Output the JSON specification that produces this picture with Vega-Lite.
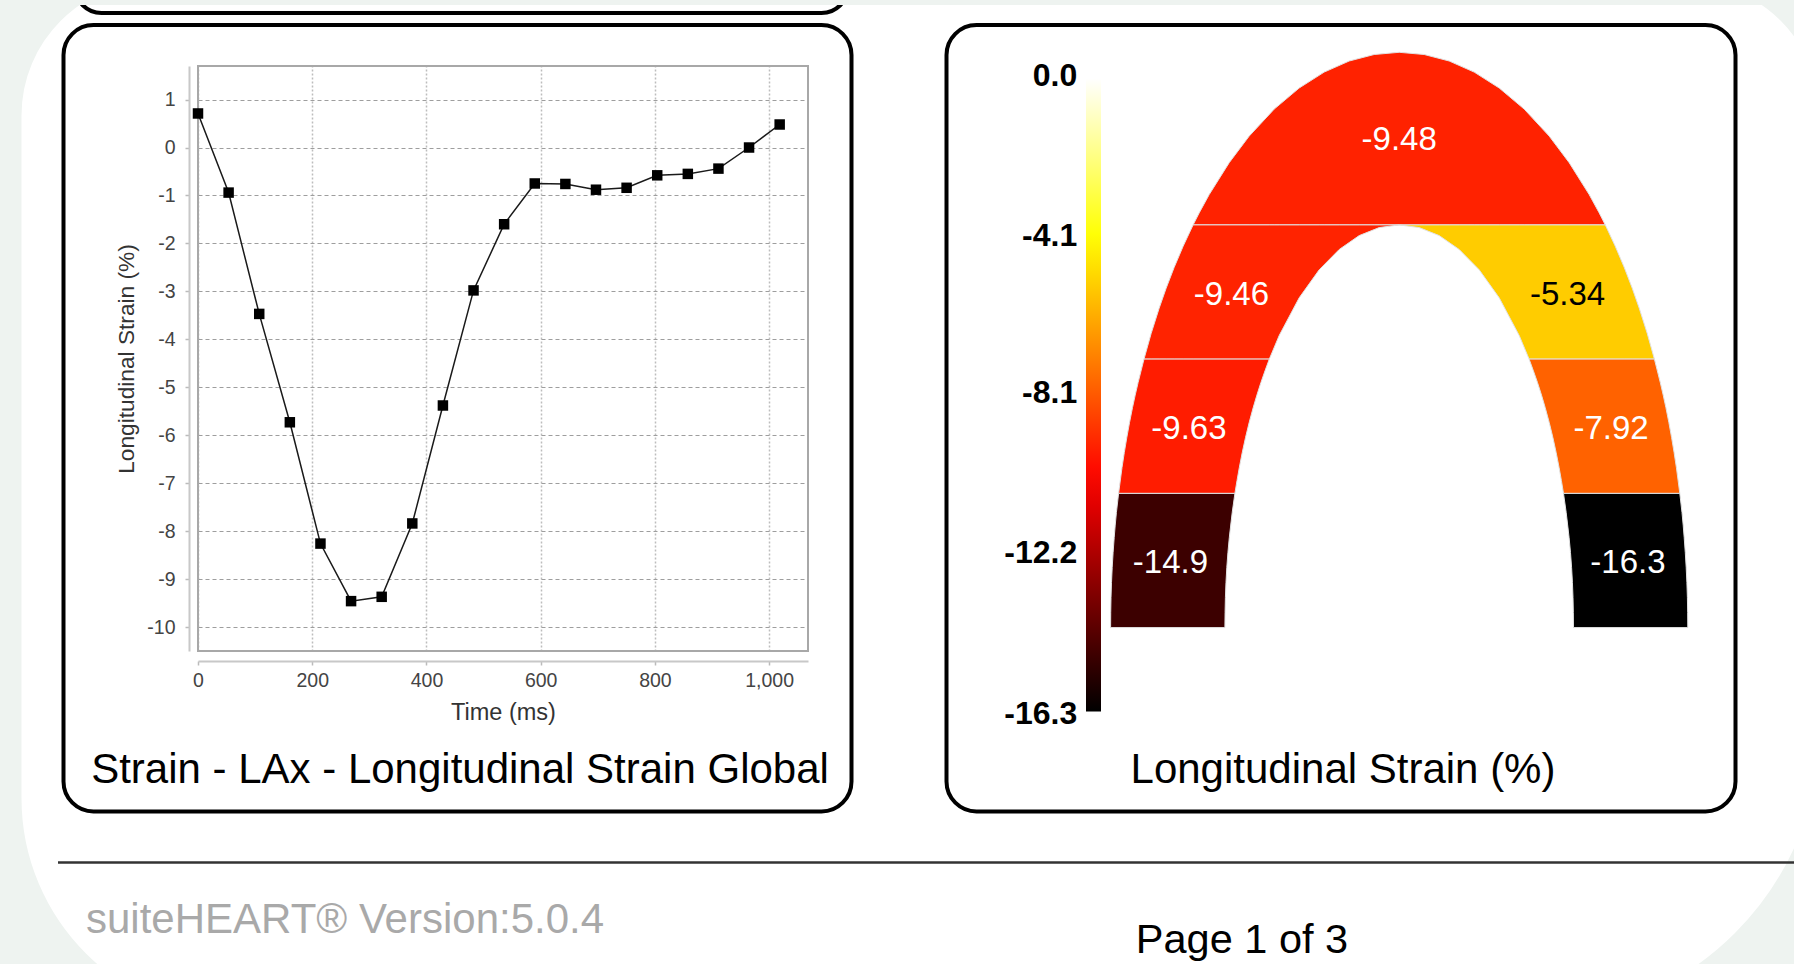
{
  "$schema": "https://vega.github.io/schema/vega-lite/v6.json",
  "width": 1794,
  "height": 964,
  "autosize": {"type": "none"},
  "padding": 0,
  "background": "#ffffff",
  "config": {"view": {"stroke": null}, "font": "Liberation Sans", "text": {"font": "Liberation Sans"}},
  "datasets": {
    "series": [
      {"t": 0, "s": 0.71}, {"t": 53.6, "s": -0.94}, {"t": 107.2, "s": -3.47}, {"t": 160.8, "s": -5.73},
      {"t": 214.4, "s": -8.26}, {"t": 268, "s": -9.46}, {"t": 321.6, "s": -9.37}, {"t": 375.2, "s": -7.84},
      {"t": 428.8, "s": -5.38}, {"t": 482.4, "s": -2.98}, {"t": 536, "s": -1.6}, {"t": 589.6, "s": -0.75},
      {"t": 643.2, "s": -0.76}, {"t": 696.8, "s": -0.88}, {"t": 750.4, "s": -0.84}, {"t": 804, "s": -0.58},
      {"t": 857.6, "s": -0.55}, {"t": 911.2, "s": -0.44}, {"t": 964.8, "s": 0.0}, {"t": 1018.4, "s": 0.48}
    ],
    "capRows": [
      {"seg": "T", "strain": -9.48, "u": -206.1, "top": 402.7, "bottom": 402.7},
      {"seg": "T", "strain": -9.48, "u": -200, "top": 414.7, "bottom": 402.7},
      {"seg": "T", "strain": -9.48, "u": -190, "top": 433.0, "bottom": 402.7},
      {"seg": "T", "strain": -9.48, "u": -170, "top": 464.9, "bottom": 402.7},
      {"seg": "T", "strain": -9.48, "u": -150, "top": 491.5, "bottom": 402.7},
      {"seg": "T", "strain": -9.48, "u": -125, "top": 518.5, "bottom": 402.7},
      {"seg": "T", "strain": -9.48, "u": -100, "top": 539.6, "bottom": 402.7},
      {"seg": "T", "strain": -9.48, "u": -75, "top": 555.5, "bottom": 402.7},
      {"seg": "T", "strain": -9.48, "u": -50, "top": 566.6, "bottom": 402.7},
      {"seg": "T", "strain": -9.48, "u": -25, "top": 573.1, "bottom": 402.7},
      {"seg": "T", "strain": -9.48, "u": 0, "top": 575.3, "bottom": 402.7},
      {"seg": "T", "strain": -9.48, "u": 25, "top": 573.1, "bottom": 402.7},
      {"seg": "T", "strain": -9.48, "u": 50, "top": 566.6, "bottom": 402.7},
      {"seg": "T", "strain": -9.48, "u": 75, "top": 555.5, "bottom": 402.7},
      {"seg": "T", "strain": -9.48, "u": 100, "top": 539.6, "bottom": 402.7},
      {"seg": "T", "strain": -9.48, "u": 125, "top": 518.5, "bottom": 402.7},
      {"seg": "T", "strain": -9.48, "u": 150, "top": 491.5, "bottom": 402.7},
      {"seg": "T", "strain": -9.48, "u": 170, "top": 464.9, "bottom": 402.7},
      {"seg": "T", "strain": -9.48, "u": 190, "top": 433.0, "bottom": 402.7},
      {"seg": "T", "strain": -9.48, "u": 200, "top": 414.7, "bottom": 402.7},
      {"seg": "T", "strain": -9.48, "u": 206.1, "top": 402.7, "bottom": 402.7},

      {"seg": "L2", "strain": -9.46, "u": -255.2, "top": 268.5, "bottom": 268.5},
      {"seg": "L2", "strain": -9.46, "u": -248, "top": 294.3, "bottom": 268.5},
      {"seg": "L2", "strain": -9.46, "u": -240, "top": 319.5, "bottom": 268.5},
      {"seg": "L2", "strain": -9.46, "u": -233, "top": 339.5, "bottom": 268.5},
      {"seg": "L2", "strain": -9.46, "u": -225, "top": 360.3, "bottom": 268.5},
      {"seg": "L2", "strain": -9.46, "u": -216, "top": 381.5, "bottom": 268.5},
      {"seg": "L2", "strain": -9.46, "u": -206.1, "top": 402.7, "bottom": 268.5},
      {"seg": "L2", "strain": -9.46, "u": -129.9, "top": 402.7, "bottom": 268.5},
      {"seg": "L2", "strain": -9.46, "u": -120, "top": 402.7, "bottom": 292.1},
      {"seg": "L2", "strain": -9.46, "u": -100, "top": 402.7, "bottom": 329.8},
      {"seg": "L2", "strain": -9.46, "u": -80, "top": 402.7, "bottom": 357.8},
      {"seg": "L2", "strain": -9.46, "u": -60, "top": 402.7, "bottom": 378.1},
      {"seg": "L2", "strain": -9.46, "u": -40, "top": 402.7, "bottom": 392.0},
      {"seg": "L2", "strain": -9.46, "u": -20, "top": 402.7, "bottom": 400.0},
      {"seg": "L2", "strain": -9.46, "u": 0, "top": 402.7, "bottom": 402.7},

      {"seg": "R2", "strain": -5.34, "u": 0, "top": 402.7, "bottom": 402.7},
      {"seg": "R2", "strain": -5.34, "u": 20, "top": 402.7, "bottom": 400.0},
      {"seg": "R2", "strain": -5.34, "u": 40, "top": 402.7, "bottom": 392.0},
      {"seg": "R2", "strain": -5.34, "u": 60, "top": 402.7, "bottom": 378.1},
      {"seg": "R2", "strain": -5.34, "u": 80, "top": 402.7, "bottom": 357.8},
      {"seg": "R2", "strain": -5.34, "u": 100, "top": 402.7, "bottom": 329.8},
      {"seg": "R2", "strain": -5.34, "u": 120, "top": 402.7, "bottom": 292.1},
      {"seg": "R2", "strain": -5.34, "u": 129.9, "top": 402.7, "bottom": 268.5},
      {"seg": "R2", "strain": -5.34, "u": 206.1, "top": 402.7, "bottom": 268.5},
      {"seg": "R2", "strain": -5.34, "u": 216, "top": 381.5, "bottom": 268.5},
      {"seg": "R2", "strain": -5.34, "u": 225, "top": 360.3, "bottom": 268.5},
      {"seg": "R2", "strain": -5.34, "u": 233, "top": 339.5, "bottom": 268.5},
      {"seg": "R2", "strain": -5.34, "u": 240, "top": 319.5, "bottom": 268.5},
      {"seg": "R2", "strain": -5.34, "u": 248, "top": 294.3, "bottom": 268.5},
      {"seg": "R2", "strain": -5.34, "u": 255.2, "top": 268.5, "bottom": 268.5}
    ],
    "sideRows": [
      {"seg": "L3", "strain": -9.63, "v": 134.2, "xa": -280.6, "xb": -164.3},
      {"seg": "L3", "strain": -9.63, "v": 160, "xa": -277.2, "xb": -159.9},
      {"seg": "L3", "strain": -9.63, "v": 190, "xa": -272.4, "xb": -153.7},
      {"seg": "L3", "strain": -9.63, "v": 220, "xa": -266.7, "xb": -146.0},
      {"seg": "L3", "strain": -9.63, "v": 245, "xa": -261.1, "xb": -138.3},
      {"seg": "L3", "strain": -9.63, "v": 268.5, "xa": -255.2, "xb": -129.9},
      {"seg": "R3", "strain": -7.92, "v": 134.2, "xa": 164.3, "xb": 280.6},
      {"seg": "R3", "strain": -7.92, "v": 160, "xa": 159.9, "xb": 277.2},
      {"seg": "R3", "strain": -7.92, "v": 190, "xa": 153.7, "xb": 272.4},
      {"seg": "R3", "strain": -7.92, "v": 220, "xa": 146.0, "xb": 266.7},
      {"seg": "R3", "strain": -7.92, "v": 245, "xa": 138.3, "xb": 261.1},
      {"seg": "R3", "strain": -7.92, "v": 268.5, "xa": 129.9, "xb": 255.2},
      {"seg": "L4", "strain": -14.9, "v": 0, "xa": -288.6, "xb": -174.3},
      {"seg": "L4", "strain": -14.9, "v": 30, "xa": -288.2, "xb": -173.8},
      {"seg": "L4", "strain": -14.9, "v": 60, "xa": -287.0, "xb": -172.4},
      {"seg": "L4", "strain": -14.9, "v": 90, "xa": -285.0, "xb": -169.9},
      {"seg": "L4", "strain": -14.9, "v": 115, "xa": -282.8, "xb": -167.0},
      {"seg": "L4", "strain": -14.9, "v": 134.2, "xa": -280.6, "xb": -164.3},
      {"seg": "R4", "strain": -16.3, "v": 0, "xa": 174.3, "xb": 288.6},
      {"seg": "R4", "strain": -16.3, "v": 30, "xa": 173.8, "xb": 288.2},
      {"seg": "R4", "strain": -16.3, "v": 60, "xa": 172.4, "xb": 287.0},
      {"seg": "R4", "strain": -16.3, "v": 90, "xa": 169.9, "xb": 285.0},
      {"seg": "R4", "strain": -16.3, "v": 115, "xa": 167.0, "xb": 282.8},
      {"seg": "R4", "strain": -16.3, "v": 134.2, "xa": 164.3, "xb": 280.6}
    ],
    "labels": [
      {"label": "-9.48", "strain": -9.48, "u": 0, "v": 487.4},
      {"label": "-9.46", "strain": -9.46, "u": -167.8, "v": 333.1},
      {"label": "-5.34", "strain": -5.34, "u": 168.3, "v": 333.1},
      {"label": "-9.63", "strain": -9.63, "u": -210.3, "v": 198.7},
      {"label": "-7.92", "strain": -7.92, "u": 211.8, "v": 198.7},
      {"label": "-14.9", "strain": -14.9, "u": -228.8, "v": 64.3},
      {"label": "-16.3", "strain": -16.3, "u": 228.7, "v": 64.3}
    ],
    "barTicks": [
      {"tick": 0, "label": "0.0"},
      {"tick": -4.1, "label": "-4.1"},
      {"tick": -8.1, "label": "-8.1"},
      {"tick": -12.2, "label": "-12.2"},
      {"tick": -16.3, "label": "-16.3"}
    ]
  },
  "resolve": {"scale": {"x": "independent", "y": "independent"}, "axis": {"x": "independent", "y": "independent"}},
  "layer": [
    {
      "data": {"values": [{}]},
      "layer": [
        {
          "mark": {"type": "rect", "filled": false, "stroke": "#000000", "strokeWidth": 4, "cornerRadius": 27},
          "encoding": {
            "x": {"datum": 75, "type": "quantitative", "scale": {"domain": [0, 1794], "range": [0, 1794], "nice": false, "zero": false}, "axis": null},
            "x2": {"datum": 848},
            "y": {"datum": -40, "type": "quantitative", "scale": {"domain": [0, 964], "range": [0, 964], "nice": false, "zero": false}, "axis": null},
            "y2": {"datum": 13}
          }
        },
        {
          "mark": {"type": "rect", "filled": false, "stroke": "#eef3f0", "strokeWidth": 200,
                   "cornerRadiusTopLeft": 234, "cornerRadiusTopRight": 234, "cornerRadiusBottomLeft": 320, "cornerRadiusBottomRight": 390},
          "encoding": {
            "x": {"datum": -78.5, "type": "quantitative", "scale": {"domain": [0, 1794], "range": [0, 1794], "nice": false, "zero": false}, "axis": null},
            "x2": {"datum": 1920},
            "y": {"datum": -118.5, "type": "quantitative", "scale": {"domain": [0, 964], "range": [0, 964], "nice": false, "zero": false}, "axis": null},
            "y2": {"datum": 1118}
          }
        },
        {
          "mark": {"type": "rect", "color": "#eef3f0"},
          "encoding": {
            "x": {"datum": 0, "type": "quantitative", "scale": {"domain": [0, 1794], "range": [0, 1794], "nice": false, "zero": false}, "axis": null},
            "x2": {"datum": 1794},
            "y": {"datum": 0, "type": "quantitative", "scale": {"domain": [0, 964], "range": [0, 964], "nice": false, "zero": false}, "axis": null},
            "y2": {"datum": 5}
          }
        },
        {
          "mark": {"type": "rect", "filled": false, "stroke": "#000000", "strokeWidth": 4, "cornerRadius": 30},
          "encoding": {
            "x": {"datum": 63.5, "type": "quantitative", "scale": {"domain": [0, 1794], "range": [0, 1794], "nice": false, "zero": false}, "axis": null},
            "x2": {"datum": 851.5},
            "y": {"datum": 25, "type": "quantitative", "scale": {"domain": [0, 964], "range": [0, 964], "nice": false, "zero": false}, "axis": null},
            "y2": {"datum": 811.5}
          }
        },
        {
          "mark": {"type": "rect", "filled": false, "stroke": "#000000", "strokeWidth": 4, "cornerRadius": 30},
          "encoding": {
            "x": {"datum": 946.5, "type": "quantitative", "scale": {"domain": [0, 1794], "range": [0, 1794], "nice": false, "zero": false}, "axis": null},
            "x2": {"datum": 1735.5},
            "y": {"datum": 25, "type": "quantitative", "scale": {"domain": [0, 964], "range": [0, 964], "nice": false, "zero": false}, "axis": null},
            "y2": {"datum": 811.5}
          }
        },
        {
          "mark": {"type": "rule", "stroke": "#333333", "strokeWidth": 2.5},
          "encoding": {
            "x": {"datum": 58, "type": "quantitative", "scale": {"domain": [0, 1794], "range": [0, 1794], "nice": false, "zero": false}, "axis": null},
            "x2": {"datum": 1800},
            "y": {"datum": 862.5, "type": "quantitative", "scale": {"domain": [0, 964], "range": [0, 964], "nice": false, "zero": false}, "axis": null}
          }
        },
        {
          "mark": {"type": "text", "text": "Strain - LAx - Longitudinal Strain Global", "fontSize": 42, "align": "center", "baseline": "alphabetic", "color": "#000000"},
          "encoding": {
            "x": {"datum": 460, "type": "quantitative", "scale": {"domain": [0, 1794], "range": [0, 1794], "nice": false, "zero": false}, "axis": null},
            "y": {"datum": 783, "type": "quantitative", "scale": {"domain": [0, 964], "range": [0, 964], "nice": false, "zero": false}, "axis": null}
          }
        },
        {
          "mark": {"type": "text", "text": "Longitudinal Strain (%)", "fontSize": 42, "align": "center", "baseline": "alphabetic", "color": "#000000"},
          "encoding": {
            "x": {"datum": 1343, "type": "quantitative", "scale": {"domain": [0, 1794], "range": [0, 1794], "nice": false, "zero": false}, "axis": null},
            "y": {"datum": 783, "type": "quantitative", "scale": {"domain": [0, 964], "range": [0, 964], "nice": false, "zero": false}, "axis": null}
          }
        },
        {
          "mark": {"type": "text", "text": "suiteHEART® Version:5.0.4", "fontSize": 42, "align": "left", "baseline": "alphabetic", "color": "#a9a9a9"},
          "encoding": {
            "x": {"datum": 86, "type": "quantitative", "scale": {"domain": [0, 1794], "range": [0, 1794], "nice": false, "zero": false}, "axis": null},
            "y": {"datum": 933, "type": "quantitative", "scale": {"domain": [0, 964], "range": [0, 964], "nice": false, "zero": false}, "axis": null}
          }
        },
        {
          "mark": {"type": "text", "text": "Page 1 of 3", "fontSize": 41.5, "align": "center", "baseline": "alphabetic", "color": "#000000"},
          "encoding": {
            "x": {"datum": 1242, "type": "quantitative", "scale": {"domain": [0, 1794], "range": [0, 1794], "nice": false, "zero": false}, "axis": null},
            "y": {"datum": 953, "type": "quantitative", "scale": {"domain": [0, 964], "range": [0, 964], "nice": false, "zero": false}, "axis": null}
          }
        }
      ]
    },
    {
      "data": {"name": "series"},
      "mark": {"type": "line", "color": "#1a1a1a", "strokeWidth": 1.5},
      "encoding": {
        "x": {"field": "t", "type": "quantitative",
              "scale": {"domain": [0, 1068], "range": [198, 808], "nice": false, "zero": false},
              "axis": {"orient": "top", "grid": true, "gridColor": "#bdbdbd", "gridDash": [2, 2], "gridWidth": 1.5,
                       "labels": false, "ticks": false, "domain": false, "title": null, "values": [0, 200, 400, 600, 800, 1000]}},
        "y": {"field": "s", "type": "quantitative",
              "scale": {"domain": [-10.5, 1.7], "range": [651, 66], "nice": false, "zero": false},
              "axis": {"orient": "left", "offset": -189, "grid": true, "gridColor": "#9e9e9e", "gridDash": [4, 3], "gridWidth": 1.2,
                       "values": [-10, -9, -8, -7, -6, -5, -4, -3, -2, -1, 0, 1], "format": "d",
                       "labelExpr": "replace(datum.label, '\u2212', '-')",
                       "labelFontSize": 19.5, "labelColor": "#444444", "labelFont": "Liberation Sans", "labelPadding": 10,
                       "tickSize": 4, "tickColor": "#bbbbbb", "tickWidth": 1.5, "domainColor": "#c8c8c8", "domainWidth": 2,
                       "title": "Longitudinal Strain (%)", "titleFont": "Liberation Sans", "titleFontSize": 22.7,
                       "titleFontWeight": "normal", "titleColor": "#333333", "titlePadding": 8}}
      }
    },
    {
      "layer": [
        {
          "data": {"values": [{}]},
          "mark": {"type": "rect", "filled": false, "stroke": "#a8a8a8", "strokeWidth": 2},
          "encoding": {
            "x": {"datum": 0, "type": "quantitative",
                  "scale": {"domain": [0, 1068], "range": [198, 808], "nice": false, "zero": false},
                  "axis": {"orient": "bottom", "offset": -303, "grid": false, "values": [0, 200, 400, 600, 800, 1000], "format": ",d",
                           "labelFlush": false, "labelFontSize": 19.5, "labelColor": "#444444", "labelFont": "Liberation Sans", "labelPadding": 6,
                           "tickSize": 4, "tickColor": "#bbbbbb", "tickWidth": 1.5, "domainColor": "#c8c8c8", "domainWidth": 2,
                           "title": "Time (ms)", "titleFont": "Liberation Sans", "titleFontSize": 23.5, "titleFontWeight": "normal",
                           "titleColor": "#333333", "titlePadding": 11}},
            "x2": {"datum": 1068},
            "y": {"datum": -10.5, "type": "quantitative", "scale": {"domain": [-10.5, 1.7], "range": [651, 66], "nice": false, "zero": false}, "axis": null},
            "y2": {"datum": 1.7}
          }
        },
        {
          "data": {"name": "series"},
          "mark": {"type": "square", "filled": true, "color": "#000000", "size": 110, "opacity": 1},
          "encoding": {
            "x": {"field": "t", "type": "quantitative",
                  "scale": {"domain": [0, 1068], "range": [198, 808], "nice": false, "zero": false},
                  "axis": {"orient": "bottom", "offset": -303, "grid": false, "values": [0, 200, 400, 600, 800, 1000], "format": ",d",
                           "labelFlush": false, "labelFontSize": 19.5, "labelColor": "#444444", "labelFont": "Liberation Sans", "labelPadding": 6,
                           "tickSize": 4, "tickColor": "#bbbbbb", "tickWidth": 1.5, "domainColor": "#c8c8c8", "domainWidth": 2,
                           "title": "Time (ms)", "titleFont": "Liberation Sans", "titleFontSize": 23.5, "titleFontWeight": "normal",
                           "titleColor": "#333333", "titlePadding": 11}},
            "y": {"field": "s", "type": "quantitative", "scale": {"domain": [-10.5, 1.7], "range": [651, 66], "nice": false, "zero": false}, "axis": null}
          }
        }
      ]
    },
    {
      "layer": [
        {
          "data": {"name": "capRows"},
          "mark": {"type": "area", "orient": "vertical", "interpolate": "linear", "stroke": "#e2e2e2", "strokeWidth": 1},
          "encoding": {
            "x": {"field": "u", "type": "quantitative", "scale": {"domain": [-300, 300], "range": [1099.2, 1699.2], "nice": false, "zero": false}, "axis": null},
            "y": {"field": "top", "type": "quantitative", "stack": null, "scale": {"domain": [0, 600], "range": [627.6, 27.6], "nice": false, "zero": false}, "axis": null},
            "y2": {"field": "bottom"},
            "detail": {"field": "seg", "type": "nominal"},
            "color": {"field": "strain", "type": "quantitative",
                      "scale": {"domain": [-16.3, -10.3, -4.1, 0], "range": ["#000000", "#ff0000", "#ffff00", "#ffffff"], "interpolate": "rgb"},
                      "legend": {"orient": "none", "legendX": 1086, "legendY": 78.5, "direction": "vertical", "title": null,
                                 "gradientLength": 633, "gradientThickness": 15, "gradientStrokeWidth": 0,
                                 "values": [0, -16.3], "labelOpacity": 0, "labelColor": "transparent", "labelFontSize": 1}}
          }
        },
        {
          "data": {"name": "sideRows"},
          "mark": {"type": "area", "orient": "horizontal", "interpolate": "monotone", "stroke": "#e2e2e2", "strokeWidth": 1},
          "encoding": {
            "y": {"field": "v", "type": "quantitative", "scale": {"domain": [0, 600], "range": [627.6, 27.6], "nice": false, "zero": false}, "axis": null},
            "x": {"field": "xa", "type": "quantitative", "stack": null, "scale": {"domain": [-300, 300], "range": [1099.2, 1699.2], "nice": false, "zero": false}, "axis": null},
            "x2": {"field": "xb"},
            "detail": {"field": "seg", "type": "nominal"},
            "color": {"field": "strain", "type": "quantitative",
                      "scale": {"domain": [-16.3, -10.3, -4.1, 0], "range": ["#000000", "#ff0000", "#ffff00", "#ffffff"], "interpolate": "rgb"}}
          }
        },
        {
          "data": {"name": "labels"},
          "mark": {"type": "text", "fontSize": 33, "font": "Liberation Sans", "align": "center", "baseline": "middle"},
          "encoding": {
            "x": {"field": "u", "type": "quantitative", "scale": {"domain": [-300, 300], "range": [1099.2, 1699.2], "nice": false, "zero": false}, "axis": null},
            "y": {"field": "v", "type": "quantitative", "scale": {"domain": [0, 600], "range": [627.6, 27.6], "nice": false, "zero": false}, "axis": null},
            "text": {"field": "label", "type": "nominal"},
            "color": {"condition": {"test": "datum.strain > -6", "value": "#000000"}, "value": "#ffffff"}
          }
        }
      ]
    },
    {
      "data": {"name": "barTicks"},
      "mark": {"type": "text", "fontSize": 32, "fontWeight": "bold", "font": "Liberation Sans", "align": "right", "baseline": "middle", "color": "#000000"},
      "encoding": {
        "x": {"datum": -322, "type": "quantitative", "scale": {"domain": [-300, 300], "range": [1099.2, 1699.2], "nice": false, "zero": false}, "axis": null},
        "y": {"field": "tick", "type": "quantitative", "scale": {"domain": [-16.3, 0], "range": [714, 75.8], "nice": false, "zero": false}, "axis": null},
        "text": {"field": "label", "type": "nominal"}
      }
    }
  ]
}
